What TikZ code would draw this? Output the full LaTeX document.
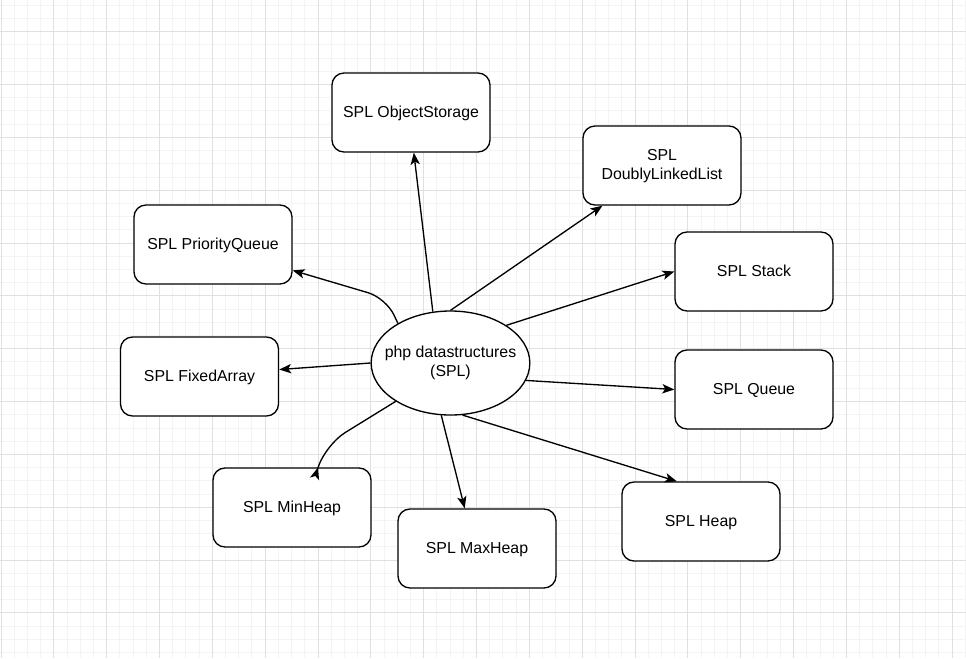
\documentclass[tikz,border=0pt]{standalone}
\usepackage{fontspec}
\setmainfont{Liberation Sans}
\usepackage{tikz}
\usetikzlibrary{arrows.meta, shapes.geometric}
\definecolor{gridminor}{RGB}{244,244,244}
\definecolor{gridmajor}{RGB}{224,224,224}
\tikzset{
  splbox/.style = {rectangle, draw=black, fill=white, rounded corners=9pt,
                   line width=1pt, minimum width=118.5pt, minimum height=59.25pt,
                   align=center, inner sep=2pt, text depth=1.2pt,
                   font=\fontsize{11.9}{14.3}\selectfont},
  splhub/.style = {ellipse, draw=black, fill=white, line width=1pt,
                   minimum width=119pt, minimum height=78pt, inner sep=0pt},
  hubtext/.style = {align=center, font=\fontsize{11.9}{14.3}\selectfont},
  splarrow/.style = {-{Stealth[length=9pt, width=7pt, inset=2.2pt]}, line width=1pt, draw=black},
  minorline/.style = {draw=gridminor, line width=0.75pt},
  majorline/.style = {draw=gridmajor, line width=0.75pt}
}
\begin{document}
\begin{tikzpicture}[x=0.75pt, y=-0.75pt]
\useasboundingbox (0,0) rectangle (966,658);
\fill[white] (0,0) rectangle (966,658);
\foreach \i in {0,...,73} \draw[minorline] ({1+13.21*\i},0) -- ({1+13.21*\i},658);
\foreach \i in {0,...,49} \draw[minorline] (0,{5.28+13.21*\i}) -- (966,{5.28+13.21*\i});
\foreach \i in {0,...,18} \draw[majorline] ({1+52.84*\i},0) -- ({1+52.84*\i},658);
\foreach \i in {0,...,12} \draw[majorline] (0,{31.7+52.84*\i}) -- (966,{31.7+52.84*\i});

\node[splhub, label={[hubtext]center:php datastructures\\(SPL)}] (php) at (450.5,363) {};

\node[splbox] (objstore) at (411,112.5) {SPL ObjectStorage};
\node[splbox] (dll) at (662,165.5) {SPL\\DoublyLinkedList};
\node[splbox] (pq) at (213,244.5) {SPL PriorityQueue};
\node[splbox] (stack) at (754,271.5) {SPL Stack};
\node[splbox] (fixarr) at (199.5,376.5) {SPL FixedArray};
\node[splbox] (queue) at (754,389.5) {SPL Queue};
\node[splbox] (minheap) at (292,507.5) {SPL MinHeap};
\node[splbox] (maxheap) at (477,548.5) {SPL MaxHeap};
\node[splbox] (heap) at (701,521.5) {SPL Heap};

\coordinate (pqbend) at (386,298);
\coordinate (minbend) at (325,445);

\draw[splarrow] (php.109) -- (objstore.274);
\draw[splarrow] (php.90) -- (dll.214);
\draw[splarrow, rounded corners=14pt] (php.143) -- (pqbend) -- (pq.342);
\draw[splarrow] (php.34) -- (stack.west);
\draw[splarrow] (php.west) -- (fixarr.5);
\draw[splarrow] (php.347) -- (queue.west);
\draw[splarrow, rounded corners=18pt] (php.215) -- (minbend) -- (minheap.57);
\draw[splarrow] (php.260) -- (maxheap.107);
\draw[splarrow] (php.283) -- (heap.121);
\end{tikzpicture}
\end{document}
